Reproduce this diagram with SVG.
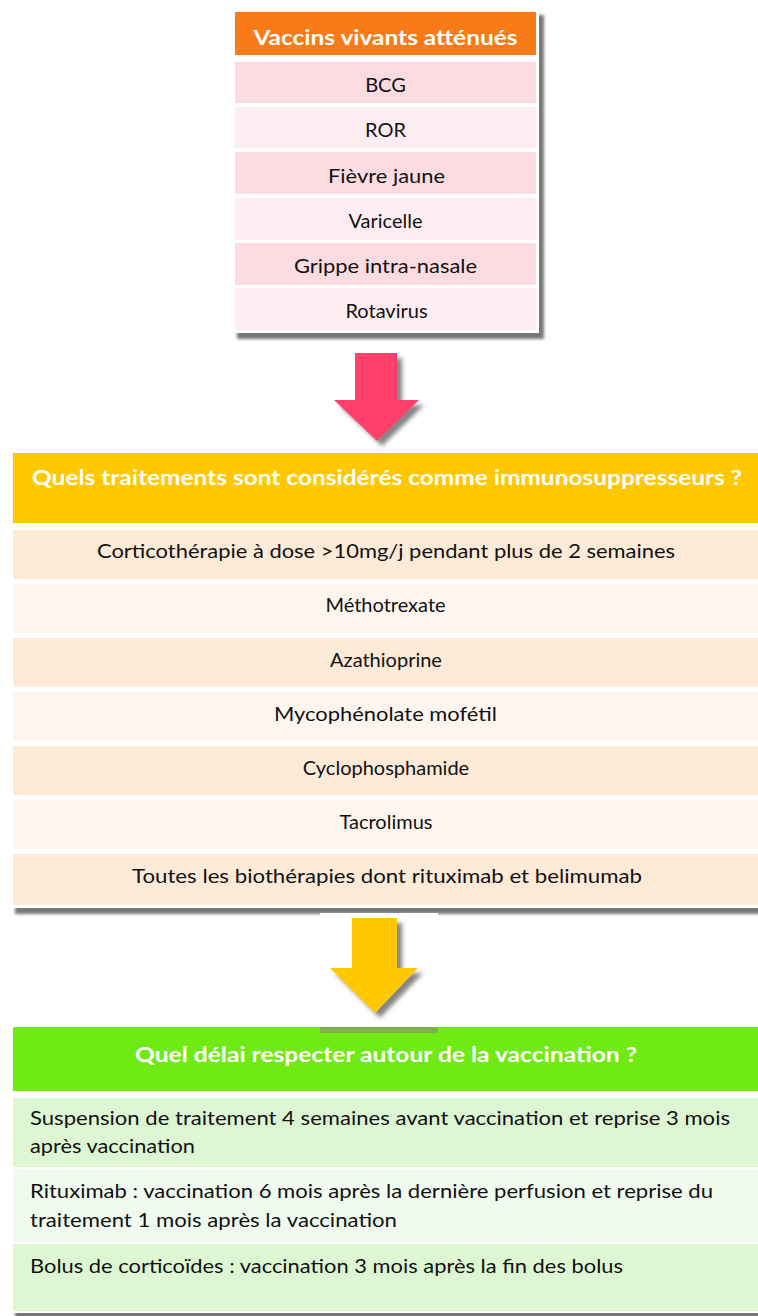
<svg xmlns="http://www.w3.org/2000/svg" width="758" height="1316" viewBox="0 0 758 1316">
  <style>
    .t { font-family: Lato, "Liberation Sans", sans-serif; font-size: 20px; fill: #111; }
    .c { text-anchor: middle; }
    .h { font-family: Lato, "Liberation Sans", sans-serif; font-size: 21px; font-weight: bold; fill: #fff; text-anchor: middle; }
    .frame { fill: #fff; }
  </style>
  <defs>
    <filter id="shadow" x="-10%" y="-10%" width="125%" height="125%">
      <feDropShadow dx="5" dy="6" stdDeviation="1.6" flood-color="#4a4a4a" flood-opacity="0.75"/>
    </filter>
    <filter id="arrowShadow" x="-20%" y="-20%" width="150%" height="150%">
      <feDropShadow dx="5" dy="5" stdDeviation="2" flood-color="#333" flood-opacity="0.6"/>
    </filter>
  </defs>

  <rect width="758" height="1316" fill="#fff"/>

  <!-- Live attenuated vaccines -->
  <g id="node-vaccins">
    <rect class="frame" x="232" y="9" width="307" height="324" filter="url(#shadow)"/>
    <rect x="235" y="12" width="301" height="43" fill="#F97A16"/>
    <text class="h" x="385.5" y="45" textLength="264" lengthAdjust="spacingAndGlyphs">Vaccins vivants atténués</text>
    <rect x="235" y="62" width="301" height="41" fill="#FDDCE1"/>
    <rect x="235" y="107" width="301" height="41" fill="#FEEEF2"/>
    <rect x="235" y="152" width="301" height="42" fill="#FDDCE1"/>
    <rect x="235" y="198" width="301" height="42" fill="#FEEEF2"/>
    <rect x="235" y="243" width="301" height="42" fill="#FDDCE1"/>
    <rect x="235" y="288" width="301" height="42" fill="#FEEEF2"/>
    <text class="t c" x="385.5" y="92">BCG</text>
    <text class="t c" x="385.5" y="137">ROR</text>
    <text class="t c" x="386.5" y="183" textLength="117" lengthAdjust="spacingAndGlyphs">Fièvre jaune</text>
    <text class="t c" x="385.5" y="228">Varicelle</text>
    <text class="t c" x="385.5" y="273" textLength="183" lengthAdjust="spacingAndGlyphs">Grippe intra-nasale</text>
    <text class="t c" x="386.5" y="318">Rotavirus</text>
  </g>

  <!-- Immunosuppressive treatments -->
  <g id="node-traitements">
    <rect class="frame" x="10" y="449" width="760" height="459" filter="url(#shadow)"/>
    <rect x="13" y="453" width="745" height="70" fill="#FFC800"/>
    <text class="h" x="387" y="485" textLength="710" lengthAdjust="spacingAndGlyphs">Quels traitements sont considérés comme immunosuppresseurs ?</text>
    <rect x="13" y="530" width="745" height="49" fill="#FDEAD7"/>
    <rect x="13" y="584" width="745" height="49" fill="#FEF5EF"/>
    <rect x="13" y="638" width="745" height="49" fill="#FDEAD7"/>
    <rect x="13" y="692" width="745" height="49" fill="#FEF5EF"/>
    <rect x="13" y="746" width="745" height="49" fill="#FDEAD7"/>
    <rect x="13" y="800" width="745" height="49" fill="#FEF5EF"/>
    <rect x="13" y="854" width="745" height="51" fill="#FDEAD7"/>
    <text class="t c" x="386" y="558" textLength="578" lengthAdjust="spacingAndGlyphs">Corticothérapie à dose &gt;10mg/j pendant plus de 2 semaines</text>
    <text class="t c" x="385.5" y="612">Méthotrexate</text>
    <text class="t c" x="386" y="667">Azathioprine</text>
    <text class="t c" x="385.5" y="721" textLength="223" lengthAdjust="spacingAndGlyphs">Mycophénolate mofétil</text>
    <text class="t c" x="386" y="775">Cyclophosphamide</text>
    <text class="t c" x="386" y="829">Tacrolimus</text>
    <text class="t c" x="387" y="883" textLength="510" lengthAdjust="spacingAndGlyphs">Toutes les biothérapies dont rituximab et belimumab</text>
  </g>

  <!-- Timing around vaccination -->
  <g id="node-delai">
    <rect class="frame" x="10" y="1022" width="760" height="291" filter="url(#shadow)"/>
    <rect x="13" y="1027" width="745" height="64" fill="#6FEA13"/>
    <text class="h" x="386" y="1062" textLength="502" lengthAdjust="spacingAndGlyphs">Quel délai respecter autour de la vaccination ?</text>
    <rect x="13" y="1098" width="745" height="69" fill="#DDF7D3"/>
    <rect x="13" y="1169" width="745" height="73" fill="#F0FAEE"/>
    <rect x="13" y="1244" width="745" height="67" fill="#DDF7D3"/>
    <text class="t" x="30" y="1125" textLength="700" lengthAdjust="spacingAndGlyphs">Suspension de traitement 4 semaines avant vaccination et reprise 3 mois</text>
    <text class="t" x="30" y="1153" textLength="165" lengthAdjust="spacingAndGlyphs">après vaccination</text>
    <text class="t" x="30" y="1198" textLength="683" lengthAdjust="spacingAndGlyphs">Rituximab : vaccination 6 mois après la dernière perfusion et reprise du</text>
    <text class="t" x="30" y="1227" textLength="367" lengthAdjust="spacingAndGlyphs">traitement 1 mois après la vaccination</text>
    <text class="t" x="30" y="1273" textLength="593" lengthAdjust="spacingAndGlyphs">Bolus de corticoïdes : vaccination 3 mois après la fin des bolus</text>
  </g>

  <!-- Connectors: block arrows between the tables -->
  <g id="connectors">
    <path id="arrow-1" d="M355,353 H397 V400 H419 L377,441 L334,400 H355 Z" fill="#FE416B" filter="url(#arrowShadow)"/>
    <g id="arrow-2">
      <rect x="320" y="913" width="118" height="114" fill="#fff"/>
      <rect x="320" y="1027" width="118" height="6" fill="#7FB04E"/>
      <path d="M352,918 H397 V968 H418 L375,1013 L330,968 H352 Z" fill="#FFC800" filter="url(#arrowShadow)"/>
    </g>
  </g>
</svg>
